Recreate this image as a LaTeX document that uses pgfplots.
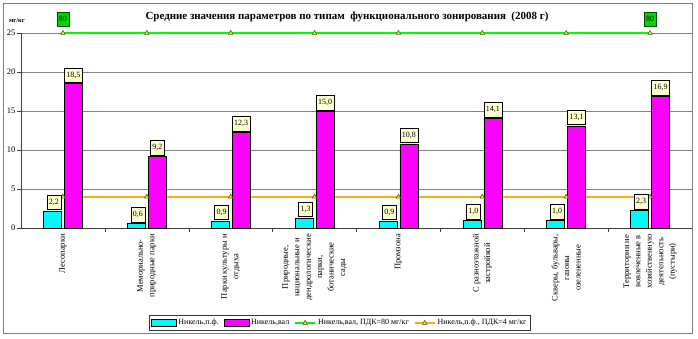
\documentclass[border=0pt]{standalone}
\usepackage{fontspec}
\setmainfont{Liberation Serif}
\usepackage{pgfplots}
\pgfplotsset{compat=1.18}
\definecolor{cy}{RGB}{0,250,250}
\definecolor{mg}{RGB}{255,0,255}
\definecolor{gr}{RGB}{0,250,0}
\definecolor{grbox}{RGB}{0,215,0}
\definecolor{orng}{RGB}{250,176,20}
\definecolor{lbl}{RGB}{255,255,204}
\definecolor{gridc}{RGB}{128,128,128}
\definecolor{mk}{RGB}{230,230,60}
\definecolor{mkd}{RGB}{70,80,20}
\pgfplotsset{
  barleg/.style={legend image code/.code={\draw[##1] (0bp,-3.5bp) rectangle (25bp,3.5bp);}},
  lineleg/.style={legend image code/.code={\draw[mark repeat=2,mark phase=2,##1] plot coordinates {(0bp,0bp) (10bp,0bp) (20bp,0bp)};}},
  barlbl/.style={nodes near coords={\pgfmathprintnumber[use comma,fixed,fixed zerofill,precision=1]{\pgfplotspointmeta}},
    every node near coord/.append style={fill=lbl, draw=black, line width=0.5bp,
    font=\fontsize{8}{9}\selectfont, inner xsep=2bp, inner ysep=4bp, anchor=south, yshift=1bp, xshift=#1}},
}
\begin{document}
\begin{tikzpicture}
\path[use as bounding box] (-21bp,-111bp) rectangle (677bp,228bp);
\draw[gridc, line width=0.8bp] (-18bp,-105bp) rectangle (671.5bp,225bp);
\begin{axis}[
  at={(0,0)}, anchor=south west,
  scale only axis, width=671bp, height=195bp,
  xmin=-0.5, xmax=7.5, ymin=0, ymax=25,
  clip=false,
  axis x line*=bottom, axis y line*=left,
  axis line style={black!75, line width=0.6bp},
  ytick={0,5,...,25},
  ymajorgrids, grid style={gridc, line width=0.7bp},
  tick align=outside, major tick length=4bp, minor tick length=4bp,
  tick style={black!75, line width=0.5bp},
  xtick={0,...,7},
  major x tick style={draw=none},
  minor x tick style={draw=black!75},
  minor xtick={0.5,1.5,...,6.5},
  xticklabels={
    Лесопарки,
    {Мемориально-\\природные парки},
    {Парки культуры и\\отдыха},
    {Природные,\\национальные и\\дендрологические\\парки,\\ботанические\\сады},
    Промзона,
    {С разноэтажной\\застройкой},
    {Скверы, бульвары,\\газоны\\озелененные},
    {Территории не\\вовлеченные в\\хозяйственную\\деятельность\\(пустыри)}},
  xticklabel style={rotate=90, anchor=east, align=center, font=\fontsize{8.5}{11.5}\selectfont, inner sep=2bp},
  yticklabel style={font=\fontsize{8.5}{10}\selectfont, inner sep=1.5bp},
  /pgf/number format/assume math mode=true,
  legend columns=4,
  legend style={at={(0.475,-0.487)}, anchor=center, draw=black!80, line width=0.5bp,
    font=\fontsize{8}{9}\selectfont, inner sep=2bp,
    /tikz/every even column/.append style={column sep=3bp}},
  legend cell align=left,
]
% limit lines (drawn behind bars)
\addplot[gr, line width=1.8bp, mark=triangle*, mark size=2.6bp,
  mark options={fill=mk, draw=mkd, line width=0.5bp}, forget plot]
  coordinates {(0,25) (1,25) (2,25) (3,25) (4,25) (5,25) (6,25) (7,25)};
\addplot[orng, line width=1.8bp, mark=triangle*, mark size=2.6bp,
  mark options={fill=mk, draw=mkd, line width=0.5bp}, forget plot]
  coordinates {(0,4) (1,4) (2,4) (3,4) (4,4) (5,4) (6,4) (7,4)};
% "80" labels for the 80 mg/kg limit line
\addplot[draw=none, forget plot, nodes near coords, point meta=explicit symbolic,
  every node near coord/.append style={fill=grbox, draw=black!70!green, line width=0.5bp,
    font=\fontsize{8}{9}\selectfont, inner xsep=2bp, inner ysep=4bp, anchor=south, yshift=7bp}]
  coordinates {(0,25)[80] (7,25)[80]};
% bars
\addplot[ybar, bar width=18bp, bar shift=-10.5bp, fill=cy, draw=black, line width=0.5bp,
  barleg, barlbl=-9bp]
  coordinates {(0,2.2) (1,0.6) (2,0.9) (3,1.3) (4,0.9) (5,1.0) (6,1.0) (7,2.3)};
\addlegendentry{Никель,п.ф.}
\addplot[ybar, bar width=18bp, bar shift=10.5bp, fill=mg, draw=black, line width=0.5bp,
  barleg, barlbl=10.5bp]
  coordinates {(0,18.5) (1,9.2) (2,12.3) (3,15.0) (4,10.8) (5,14.1) (6,13.1) (7,16.9)};
\addlegendentry{Никель,вал}
\addlegendimage{gr, line width=1.8bp, mark=triangle*, mark size=2.6bp,
  mark options={fill=mk, draw=mkd, line width=0.5bp}, lineleg}
\addlegendentry{Никель,вал, ПДК=80 мг/кг}
\addlegendimage{orng, line width=1.8bp, mark=triangle*, mark size=2.6bp,
  mark options={fill=mk, draw=mkd, line width=0.5bp}, lineleg}
\addlegendentry{Никель,п.ф., ПДК=4 мг/кг}
\end{axis}
\node[font=\bfseries\fontsize{11}{13}\selectfont] at (326bp,211bp)
  {Средние значения параметров по типам\ \ функционального зонирования\ \ (2008 г)};
\node[font=\bfseries\fontsize{6.5}{8}\selectfont] at (-4bp,208bp) {мг/кг};
\end{tikzpicture}
\end{document}
